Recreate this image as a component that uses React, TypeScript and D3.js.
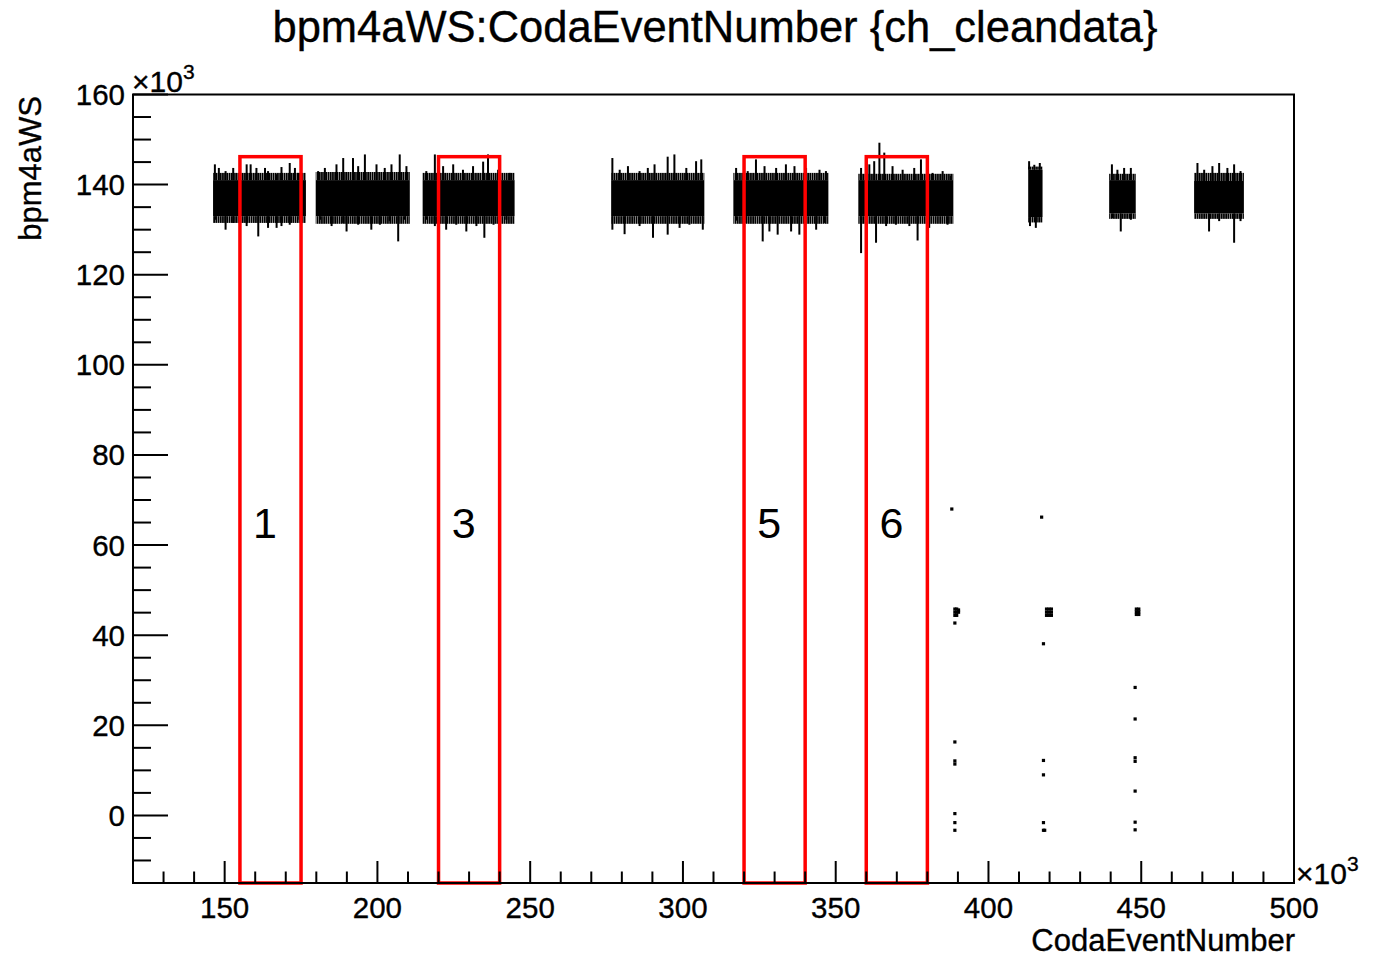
import React from "react";
import * as d3 from "d3";

// ---------- data (values in units of 10^3) ----------
const xDomain: [number, number] = [120, 500];
const yDomain: [number, number] = [-15, 160];
const xMajorTicks = [150, 200, 250, 300, 350, 400, 450, 500];
const yMajorTicks = [0, 20, 40, 60, 80, 100, 120, 140, 160];

const titleText = "bpm4aWS:CodaEventNumber {ch_cleandata}";
const xTitle = "CodaEventNumber";
const yTitle = "bpm4aWS";

// dense bands of events (one entry per run segment)
const clusterStart = [146.2, 179.8, 214.8, 276.5, 316.5, 357.4, 413.0, 439.5, 467.3];
const clusterEnd = [176.6, 210.6, 244.9, 307.0, 347.6, 388.5, 417.7, 448.2, 483.6];
const clusterLow = [133.0, 133.0, 133.0, 133.0, 133.0, 133.0, 132.8, 133.6, 133.6];
const clusterHigh = [141.0, 141.0, 141.0, 141.0, 141.0, 141.0, 143.3, 141.0, 140.8];
const fringeLow = [131.5, 131.3, 131.3, 131.3, 131.3, 131.3, 131.6, 132.4, 132.4];
const fringeHigh = [142.6, 142.8, 142.6, 142.6, 142.6, 142.4, 144.0, 142.4, 142.6];

// outlying events above the bands
const spikesUp: [number, number][] = [
  [146.8, 144.5], [148.1, 143.7], [150.3, 143.0], [152.8, 143.7], [155.0, 143.3], [157.2, 144.5], [158.5, 144.5], [160.4, 143.7], [163.2, 143.7], [164.2, 143.0], [167.0, 142.3], [168.6, 143.9], [171.3, 144.8], [173.0, 143.7], [174.1, 142.6],
  [180.6, 143.0], [182.8, 143.7], [186.6, 144.5], [188.8, 145.9], [192.0, 145.9], [193.7, 144.1], [195.9, 146.7], [199.7, 144.5], [202.4, 143.7], [204.6, 144.5], [207.3, 146.7], [209.5, 144.1],
  [216.0, 143.0], [218.8, 146.7], [221.5, 144.1], [224.8, 144.5], [228.0, 143.3], [231.3, 144.1], [234.6, 145.1], [236.2, 146.7], [239.5, 143.3], [243.3, 142.6],
  [276.9, 145.9], [279.3, 143.3], [282.0, 144.1], [285.8, 143.0], [288.5, 143.7], [290.7, 144.5], [295.0, 146.2], [297.2, 146.7], [301.1, 143.7], [304.3, 145.2], [306.0, 145.6],
  [317.4, 143.7], [321.2, 143.0], [323.9, 145.6], [326.7, 144.1], [330.5, 143.7], [333.7, 144.5], [336.5, 144.1], [340.3, 143.7], [344.7, 143.3], [346.8, 143.0],
  [358.3, 143.7], [361.0, 144.5], [362.6, 145.2], [364.3, 149.3], [365.9, 147.1], [368.6, 144.1], [371.9, 143.3], [375.7, 143.7], [377.9, 145.6], [381.7, 142.6], [385.0, 143.0], [387.7, 141.9],
  [413.3, 145.2], [415.0, 144.4], [416.8, 144.8],
  [440.4, 144.5], [442.2, 143.3], [444.4, 143.7], [446.6, 143.7],
  [468.4, 144.8], [470.6, 143.3], [473.3, 144.1], [475.5, 144.8], [478.2, 143.7], [480.4, 144.5], [482.5, 143.0],
];

// outlying events below the bands
const spikesDown: [number, number][] = [
  [147.0, 132.2], [150.3, 130.0], [152.8, 131.5], [155.0, 131.1], [157.2, 130.8], [161.0, 128.5], [164.2, 130.4], [167.0, 130.4], [168.6, 130.8], [171.3, 131.1], [174.5, 132.2],
  [181.2, 132.2], [185.0, 130.8], [188.8, 131.5], [189.9, 129.6], [193.7, 131.1], [198.0, 130.0], [200.8, 131.1], [204.0, 131.9], [206.8, 127.4], [209.0, 132.2],
  [216.0, 132.2], [218.8, 130.8], [222.5, 130.0], [225.8, 131.1], [229.1, 129.6], [232.4, 130.8], [235.0, 128.2], [238.0, 131.1], [242.2, 132.2],
  [276.9, 130.0], [280.9, 129.0], [285.8, 130.8], [290.2, 128.2], [295.0, 128.9], [298.9, 130.4], [302.1, 131.1], [306.5, 130.0],
  [317.4, 132.0], [320.7, 131.5], [326.1, 127.4], [328.3, 129.6], [331.0, 128.9], [335.4, 129.6], [338.1, 128.9], [343.6, 130.0], [346.3, 131.5],
  [358.3, 124.8], [359.9, 127.6], [363.2, 127.1], [366.5, 130.8], [369.7, 131.1], [374.1, 130.8], [376.8, 127.6], [380.6, 130.4], [386.6, 131.1],
  [413.6, 130.8], [415.5, 130.4],
  [440.6, 132.6], [443.3, 129.6], [446.6, 132.2],
  [472.2, 129.6], [475.5, 131.9], [480.4, 127.1], [482.5, 131.9],
];

// isolated events far from the bands
const strayX = [388.0, 417.4,
  389.0, 389.6, 390.2, 389.0, 389.6, 390.2, 389.0, 389.6,
  419.0, 419.8, 420.6, 419.0, 419.8, 420.6, 419.0, 419.8, 420.6,
  448.4, 449.2, 448.4, 449.2, 448.4, 449.2,
  389.0, 418.0, 448.0, 448.0, 389.0, 389.0, 389.0, 418.0, 418.0, 448.0, 448.0, 448.0, 389.0, 389.0, 389.0, 418.0, 418.0, 418.4, 448.0, 448.0];
const strayY = [68.0, 66.2,
  45.8, 45.8, 45.6, 45.1, 45.1, 45.1, 44.4, 44.4,
  45.8, 45.8, 45.8, 45.1, 45.1, 45.1, 44.4, 44.4, 44.4,
  45.8, 45.8, 45.2, 45.2, 44.6, 44.6,
  42.7, 38.1, 28.4, 21.4, 16.3, 12.1, 11.4, 12.2, 9.0, 12.8, 12.0, 5.4, 0.4, -1.6, -3.3, -1.6, -3.3, -3.3, -1.5, -3.2];

// selected run windows
const boxStart = [155, 220, 320, 360];
const boxEnd = [175, 240, 340, 380];
const boxTop = 146.2;
const boxLabels = ["1", "3", "5", "6"];
const boxLabelX = [159.3, 224.3, 324.3, 364.3];
const boxLabelY = 61.6;

// ---------- layout ----------
const W = 1383;
const H = 958;
const L = 133, R = 1294, T = 94.5, B = 883;
const FONT = "'Liberation Sans', Arial, Helvetica, sans-serif";
const TXT = { fill: "#000", stroke: "#000", strokeWidth: 0.35 };

export default function App() {
  const x = d3.scaleLinear().domain(xDomain).range([L, R]);
  const y = d3.scaleLinear().domain(yDomain).range([B, T]);

  const xMinor = d3.range(130, 500.001, 10).filter((v) => !xMajorTicks.includes(v));
  const yMinor = d3.range(-10, 160.001, 5).filter((v) => !yMajorTicks.includes(Math.round(v)));

  const clusterIdx = (v: number) => {
    let best = 0, bd = Infinity;
    clusterStart.forEach((s, i) => {
      const c = (s + clusterEnd[i]) / 2;
      const d = Math.abs(c - v);
      if (d < bd) { bd = d; best = i; }
    });
    return best;
  };

  return (
    <svg width={W} height={H} style={{ position: "absolute", left: 0, top: 0, background: "#fff" }} fontFamily={FONT}>
      <defs>
        <pattern id="fringe" width="2.2" height="4" patternUnits="userSpaceOnUse">
          <rect x="0" y="0" width="1.8" height="4" fill="#000" />
        </pattern>
      </defs>
      <rect x={0} y={0} width={W} height={H} fill="#fff" />

      {/* title */}
      <text x={715} y={42} fontSize={43.5} textAnchor="middle" {...TXT}>{titleText}</text>

      {/* bands */}
      <g>
        {clusterStart.map((s, i) => (
          <g key={"c" + i}>
            <rect x={x(s)} width={x(clusterEnd[i]) - x(s)} y={y(fringeHigh[i])} height={y(clusterHigh[i]) - y(fringeHigh[i])} fill="url(#fringe)" />
            <rect x={x(s)} width={x(clusterEnd[i]) - x(s)} y={y(clusterLow[i])} height={y(fringeLow[i]) - y(clusterLow[i])} fill="url(#fringe)" />
            <rect x={x(s)} width={x(clusterEnd[i]) - x(s)} y={y(clusterHigh[i])} height={y(clusterLow[i]) - y(clusterHigh[i])} fill="#000" />
          </g>
        ))}
        {spikesUp.map(([sx, sy], i) => (
          <line key={"u" + i} x1={x(sx)} x2={x(sx)} y1={y(clusterHigh[clusterIdx(sx)])} y2={y(sy)} stroke="#000" strokeWidth={2} />
        ))}
        {spikesDown.map(([sx, sy], i) => (
          <line key={"d" + i} x1={x(sx)} x2={x(sx)} y1={y(clusterLow[clusterIdx(sx)])} y2={y(sy)} stroke="#000" strokeWidth={2} />
        ))}
        {strayX.map((sx, i) => (
          <rect key={"s" + i} x={x(sx) - 1.6} y={y(strayY[i]) - 1.6} width={3.2} height={3.2} fill="#000" />
        ))}
      </g>

      {/* red boxes */}
      {boxStart.map((s, i) => (
        <rect key={"b" + i} x={x(s)} y={y(boxTop)} width={x(boxEnd[i]) - x(s)} height={y(yDomain[0]) - y(boxTop)} fill="none" stroke="#ff0000" strokeWidth={3.5} />
      ))}
      {boxLabels.map((t, i) => (
        <text key={"bl" + i} x={x(boxLabelX[i])} y={y(boxLabelY)} fontSize={43} fill="#000">{t}</text>
      ))}

      {/* frame */}
      <rect x={L} y={T} width={R - L} height={B - T} fill="none" stroke="#000" strokeWidth={2} />

      {/* x axis ticks */}
      {xMajorTicks.map((v) => (
        <line key={"xM" + v} x1={x(v)} x2={x(v)} y1={B} y2={B - 22} stroke="#000" strokeWidth={2} />
      ))}
      {xMinor.map((v) => (
        <line key={"xm" + v} x1={x(v)} x2={x(v)} y1={B} y2={B - 11.5} stroke="#000" strokeWidth={2} />
      ))}
      {xMajorTicks.map((v) => (
        <text key={"xl" + v} x={x(v)} y={918} fontSize={29.5} textAnchor="middle" {...TXT}>{v}</text>
      ))}

      {/* y axis ticks */}
      {yMajorTicks.map((v) => (
        <line key={"yM" + v} x1={L} x2={L + 35} y1={y(v)} y2={y(v)} stroke="#000" strokeWidth={2} />
      ))}
      {yMinor.map((v) => (
        <line key={"ym" + v} x1={L} x2={L + 18} y1={y(v)} y2={y(v)} stroke="#000" strokeWidth={2} />
      ))}
      {yMajorTicks.map((v) => (
        <text key={"yl" + v} x={125} y={y(v) + 10.5} fontSize={29.5} textAnchor="end" {...TXT}>{v}</text>
      ))}

      {/* exponent labels */}
      <text x={132} y={92} fontSize={30} {...TXT}>
        ×10<tspan dy={-13} fontSize={21}>3</tspan>
      </text>
      <text x={1296} y={884} fontSize={30} {...TXT}>
        ×10<tspan dy={-13} fontSize={21}>3</tspan>
      </text>

      {/* axis titles */}
      <text x={1295} y={951} fontSize={31} textAnchor="end" {...TXT}>{xTitle}</text>
      <text transform={`translate(41,96) rotate(-90)`} fontSize={31} textAnchor="end" {...TXT}>{yTitle}</text>
    </svg>
  );
}
